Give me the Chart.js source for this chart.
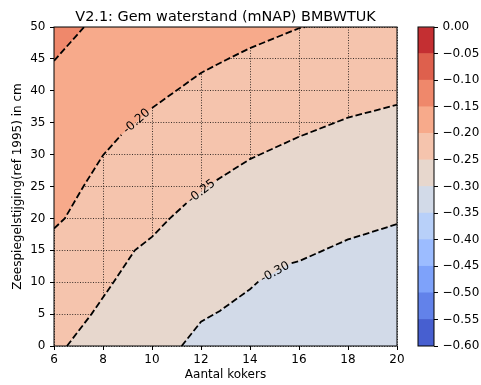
<!DOCTYPE html>
<html>
<head>
<meta charset="utf-8">
<script src="https://cdn.jsdelivr.net/npm/chart.js@4.4.1/dist/chart.umd.min.js"></script>
<style>
  html,body{margin:0;padding:0;background:#fff;}
  #wrap{position:relative;width:481px;height:385px;overflow:hidden;}
  #main{position:absolute;left:0;top:0;}
  #cbar{position:absolute;left:405px;top:0;}
</style>
</head>
<body>
<div id="wrap">
  <canvas id="main" width="410" height="385"></canvas>
  <canvas id="cbar" width="76" height="385"></canvas>
</div>
<script>
/* contour plot: water level vs number of culverts and sea level rise */
const TITLE = 'V2.1: Gem waterstand (mNAP) BMBWTUK';
const X_LABEL = 'Aantal kokers';
const Y_LABEL = 'Zeespiegelstijging(ref 1995) in cm';
const X_TICKS = [6, 8, 10, 12, 14, 16, 18, 20];
const Y_TICKS = [0, 5, 10, 15, 20, 25, 30, 35, 40, 45, 50];
const LEVELS = [-0.60, -0.55, -0.50, -0.45, -0.40, -0.35, -0.30, -0.25, -0.20, -0.15, -0.10, -0.05, 0.00];

// contour lines, [aantal kokers, zeespiegelstijging]
const C15 = [[6, 44.7], [7.23, 50]];
const C20 = [[6, 18.4], [6.44, 20], [7.2, 25], [8, 29.9], [8.75, 33.1], [10, 37.3], [12, 42.8], [13, 44.8], [14, 46.7], [16, 49.8], [16.25, 50]];
const C25 = [[6.53, 0], [7.53, 5], [8.43, 10], [9.3, 15], [10, 17.1], [10.73, 20], [11.41, 22.4], [12.64, 26.0], [14, 29.3], [16, 32.8], [18, 35.8], [20, 37.8]];
const C30 = [[11.21, 0], [12, 3.8], [12.77, 5.5], [14, 8.9], [14.34, 10.1], [15.7, 13.0], [16, 13.3], [18, 16.7], [20, 19.1]];

// coolwarm, one colour per band between LEVELS
const BAND_COLORS = ['#475FD0', '#6282EA', '#7EA2FA', '#9CBCFF', '#B8D0F9', '#D2DAE8',
                     '#E7D7CD', '#F5C4AD', '#F7AA8B', '#EF886B', '#DE604D', '#C42F32'];
const FONT = '"DejaVu Sans", sans-serif';

// level, points, index where the label gap ends, which side to fill
const CONTOURS = [
  {lvl: -0.30, pts: C30, gap: 5, side: 'start'},
  {lvl: -0.25, pts: C25, gap: 7, side: 'start'},
  {lvl: -0.20, pts: C20, gap: 5, side: 'end'},
  {lvl: -0.15, pts: C15, gap: null, side: 'end'}
];
const lvlIdx = v => Math.round((v - LEVELS[0]) / 0.05);

const datasets = [];
// fills: drawn bottom-up by 'order' (higher order drawn first)
const fillOrder = {'-0.25': 20, '-0.3': 19, '-0.2': 18, '-0.15': 17};
CONTOURS.forEach(c => {
  const k = lvlIdx(c.lvl);
  datasets.push({
    data: c.pts.map(p => ({x: p[0], y: p[1]})),
    fill: c.side,
    backgroundColor: BAND_COLORS[c.side === 'end' ? k : k - 1],
    borderColor: 'rgba(0,0,0,0)', borderWidth: 0, pointRadius: 0, tension: 0,
    order: fillOrder[String(c.lvl)]
  });
});
CONTOURS.forEach((c, i) => {
  const d = [];
  c.pts.forEach((p, j) => {
    if (c.gap !== null && j === c.gap) d.push({x: (p[0] + c.pts[j - 1][0]) / 2, y: null});
    d.push({x: p[0], y: p[1]});
  });
  datasets.push({
    data: d, fill: false, borderColor: '#000', borderWidth: 1.8, borderDash: [6.7, 2.9],
    pointRadius: 0, tension: 0, spanGaps: false, order: i
  });
});

const decor = {
  id: 'decor',
  beforeDraw(chart) {
    const {ctx, chartArea: a} = chart;
    ctx.save();
    ctx.fillStyle = BAND_COLORS[7];
    ctx.fillRect(a.left, a.top, a.right - a.left, a.bottom - a.top);
    ctx.restore();
  },
  afterDraw(chart) {
    const {ctx, chartArea: a, scales: {x, y}} = chart;
    ctx.save();
    // contour labels in the gaps
    ctx.font = '12px ' + FONT;
    ctx.fillStyle = '#000';
    ctx.textAlign = 'center';
    ctx.textBaseline = 'middle';
    CONTOURS.forEach(c => {
      if (c.gap === null) return;
      const p = c.pts[c.gap - 1], q = c.pts[c.gap];
      const x1 = x.getPixelForValue(p[0]), y1 = y.getPixelForValue(p[1]);
      const x2 = x.getPixelForValue(q[0]), y2 = y.getPixelForValue(q[1]);
      ctx.save();
      ctx.translate((x1 + x2) / 2, (y1 + y2) / 2);
      ctx.rotate(Math.atan2(y2 - y1, x2 - x1));
      ctx.fillText(c.lvl.toFixed(2), 0, 0);
      ctx.restore();
    });
    // frame
    ctx.strokeStyle = '#000';
    ctx.lineWidth = 1;
    ctx.strokeRect(a.left, a.top, a.right - a.left, a.bottom - a.top);
    // title
    ctx.font = '14.4px ' + FONT;
    ctx.textBaseline = 'alphabetic';
    ctx.fillText(TITLE, (a.left + a.right) / 2, 20.5);
    ctx.restore();
  }
};

const tickFont = {family: FONT, size: 12};
new Chart(document.getElementById('main'), {
  type: 'line',
  data: {datasets},
  options: {
    responsive: false, animation: false, events: [],
    layout: {padding: {left: 0, right: 13, top: 27, bottom: 0}},
    plugins: {legend: {display: false}, tooltip: {enabled: false}, filler: {propagate: false}},
    scales: {
      x: {
        type: 'linear', min: 6, max: 20, z: 1,
        afterBuildTicks: s => { s.ticks = X_TICKS.map(v => ({value: v})); },
        afterFit: s => { s.height = 39; },
        ticks: {color: '#000', font: tickFont, padding: 3, maxRotation: 0, autoSkip: false},
        grid: {color: 'rgba(0,0,0,0.8)', lineWidth: 0.95, tickLength: 4, tickColor: '#000', tickWidth: 1, tickBorderDash: []},
        border: {display: false, dash: [1, 1.6]},
        title: {display: true, text: X_LABEL, color: '#000', font: tickFont, padding: {top: 0, bottom: 2.8}}
      },
      y: {
        type: 'linear', min: 0, max: 50, z: 1,
        afterBuildTicks: s => { s.ticks = Y_TICKS.map(v => ({value: v})); },
        afterFit: s => { s.width = 54; },
        ticks: {color: '#000', font: tickFont, padding: 4.5, autoSkip: false},
        grid: {color: 'rgba(0,0,0,0.8)', lineWidth: 0.95, tickLength: 4, tickColor: '#000', tickWidth: 1, tickBorderDash: []},
        border: {display: false, dash: [1, 1.6]},
        title: {display: true, text: Y_LABEL, color: '#000', font: tickFont, padding: {top: 10.3, bottom: 0}}
      }
    }
  },
  plugins: [decor]
});

// colorbar
const cbFrame = {
  id: 'cbFrame',
  afterDraw(chart) {
    const {ctx, chartArea: a} = chart;
    ctx.save();
    ctx.strokeStyle = '#000';
    ctx.lineWidth = 1;
    ctx.strokeRect(a.left, a.top, a.right - a.left, a.bottom - a.top);
    ctx.restore();
  }
};
const fmt = v => Math.abs(v) < 1e-9 ? '0.00' : (v < 0 ? '\u2212' : '') + Math.abs(v).toFixed(2);
new Chart(document.getElementById('cbar'), {
  type: 'bar',
  data: {
    labels: [''],
    datasets: BAND_COLORS.map((c, k) => ({
      data: [[LEVELS[k], LEVELS[k + 1]]], backgroundColor: c, borderWidth: 0,
      grouped: false, barPercentage: 1, categoryPercentage: 1
    }))
  },
  options: {
    responsive: false, animation: false, events: [],
    layout: {padding: {left: 13, right: 0, top: 27, bottom: 39}},
    plugins: {legend: {display: false}, tooltip: {enabled: false}},
    scales: {
      x: {display: false},
      y: {
        position: 'right', min: -0.6, max: 0,
        afterBuildTicks: s => { s.ticks = LEVELS.map(v => ({value: v})); },
        afterFit: s => { s.width = 47; },
        ticks: {color: '#000', font: tickFont, padding: 4.5, callback: v => fmt(v), autoSkip: false},
        grid: {drawOnChartArea: false, tickLength: 4, tickColor: '#000', tickWidth: 1},
        border: {display: false}
      }
    }
  },
  plugins: [cbFrame]
});
</script>
</body>
</html>
